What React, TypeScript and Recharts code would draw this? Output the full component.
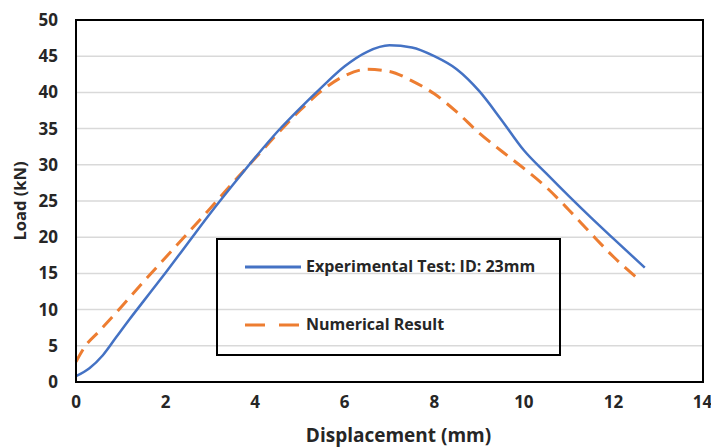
import { LineChart, Line, XAxis, YAxis, CartesianGrid, ReferenceArea } from "recharts";

const experimentalX = [0, 0.3, 0.6, 0.9, 1.2, 1.5, 2, 2.5, 3, 3.5, 4, 4.5, 5, 5.5, 6, 6.5, 7, 7.5, 8, 8.5, 9, 9.5, 10, 10.5, 11, 11.5, 12, 12.7];
const experimentalY = [0.8, 1.9, 3.7, 6.2, 8.7, 11.1, 15.1, 19.2, 23.3, 27.2, 31, 34.6, 37.8, 40.8, 43.6, 45.6, 46.5, 46.2, 45, 43.2, 40.2, 36.2, 32, 28.8, 25.7, 22.7, 19.8, 15.8];

const numericalX = [0, 0.2, 0.5, 1, 1.5, 2, 2.5, 3, 3.5, 4, 4.5, 5, 5.5, 6, 6.5, 7, 7.5, 8, 8.5, 9, 9.5, 10, 10.5, 11, 11.5, 12, 12.6];
const numericalY = [2.8, 4.9, 6.9, 10.3, 13.8, 17.2, 20.6, 24, 27.5, 30.9, 34.3, 37.5, 40.3, 42.3, 43.2, 42.9, 41.6, 39.8, 37.3, 34.4, 31.9, 29.5, 26.9, 23.8, 20.5, 17.3, 14];

const xTicks = [0, 2, 4, 6, 8, 10, 12, 14];
const yTicks = [0, 5, 10, 15, 20, 25, 30, 35, 40, 45, 50];

const experimental = experimentalX.map((x, i) => ({ x, load: experimentalY[i] }));
const numerical = numericalX.map((x, i) => ({ x, load: numericalY[i] }));

const FONT = "'Open Sans', sans-serif";
const tickStyle = { fontFamily: FONT, fontSize: 17, fontWeight: 700, fill: "#262626" };

// legend box sits over the plot, transparent like the original
const LegendBox = () => (
  <div
    style={{
      position: "absolute",
      left: 216,
      top: 238,
      width: 341,
      height: 114,
      border: "2px solid #000",
      fontFamily: FONT,
      fontSize: 16,
      fontWeight: 700,
      color: "#262626",
      lineHeight: "20px",
    }}
  >
    <svg width={60} height={10} style={{ position: "absolute", left: 27, top: 22 }}>
      <line x1={0} y1={5} x2={56} y2={5} stroke="#4472C4" strokeWidth={3} />
    </svg>
    <span style={{ position: "absolute", left: 88, top: 16, whiteSpace: "nowrap" }}>Experimental Test: ID: 23mm</span>
    <svg width={60} height={10} style={{ position: "absolute", left: 27, top: 80 }}>
      <line x1={0} y1={5} x2={56} y2={5} stroke="#ED7D31" strokeWidth={3} strokeDasharray="20 14" />
    </svg>
    <span style={{ position: "absolute", left: 88, top: 74, whiteSpace: "nowrap" }}>Numerical Result</span>
  </div>
);

export default function App() {
  return (
    <div style={{ position: "absolute", left: 0, top: 0, width: 711, height: 447, background: "#fff" }}>
      <LineChart width={711} height={447} margin={{ top: 20, right: 8, bottom: 35, left: 0 }}>
        <CartesianGrid horizontal vertical={false} stroke="#d9d9d9" strokeWidth={1.5} />
        <XAxis
          type="number"
          dataKey="x"
          domain={[0, 14]}
          ticks={xTicks}
          tickLine={false}
          tickSize={0}
          tickMargin={14}
          axisLine={{ stroke: "#000", strokeWidth: 2 }}
          tick={tickStyle}
          allowDuplicatedCategory={false}
          label={{ value: "Displacement (mm)", position: "insideBottom", offset: -30, dx: 9, style: { fontFamily: FONT, fontSize: 19, fontWeight: 700, fill: "#262626" } }}
        />
        <YAxis
          type="number"
          domain={[0, 50]}
          ticks={yTicks}
          width={76}
          tickLine={false}
          tickSize={0}
          tickMargin={18}
          axisLine={{ stroke: "#000", strokeWidth: 2 }}
          tick={tickStyle}
          label={{ value: "Load (kN)", angle: -90, position: "insideLeft", offset: 20, style: { fontFamily: FONT, fontSize: 16.5, fontWeight: 700, fill: "#262626", textAnchor: "middle" } }}
        />
        <ReferenceArea x1={0} x2={14} y1={0} y2={50} fill="none" stroke="#000" strokeWidth={2} strokeOpacity={1} />
        <Line
          data={numerical}
          dataKey="load"
          name="Numerical Result"
          type="monotone"
          stroke="#ED7D31"
          strokeWidth={3}
          strokeDasharray="14 8"
          dot={false}
          isAnimationActive={false}
        />
        <Line
          data={experimental}
          dataKey="load"
          name="Experimental Test: ID: 23mm"
          type="monotone"
          stroke="#4472C4"
          strokeWidth={2.5}
          dot={false}
          isAnimationActive={false}
        />
      </LineChart>
      <LegendBox />
    </div>
  );
}
